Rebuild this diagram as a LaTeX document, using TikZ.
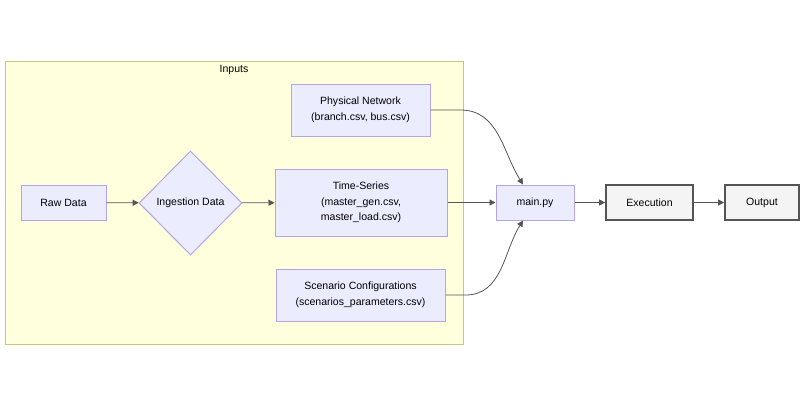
\documentclass[tikz,border=0pt]{standalone}
\usepackage{fontspec}
\setmainfont{Liberation Sans}
\usetikzlibrary{shapes.geometric,arrows.meta}

\definecolor{nodefill}{HTML}{ECECFF}
\definecolor{nodeline}{HTML}{B4A4E8}
\definecolor{clusterfill}{HTML}{FFFFDE}
\definecolor{clusterline}{HTML}{C8C87A}
\definecolor{runfill}{HTML}{F4F4F4}
\definecolor{runline}{HTML}{555555}
\definecolor{edgecol}{HTML}{555555}

\tikzset{
  box/.style={draw=nodeline, fill=nodefill, line width=0.75pt, inner sep=0pt,
    align=center, font=\fontsize{7.9}{11.6}\selectfont},
  decision/.style={box, diamond, aspect=1},
  runbox/.style={box, draw=runline, fill=runfill, line width=1.2pt},
  flow/.style={draw=edgecol, line width=0.6pt, -{Triangle[length=4.5pt,width=4.5pt]}}
}

\begin{document}
\begin{tikzpicture}[x=0.75pt,y=0.75pt]
\useasboundingbox (0,0) rectangle (804,-400);
% the inputs cluster
\draw [draw=clusterline, fill=clusterfill, line width=0.75pt] (5,-61) rectangle (463,-344);
\node (inputs) [font=\fontsize{7.9}{9}\selectfont] at (234,-70) {Inputs};
% nodes
\node (raw) [box, minimum width=63.75pt, minimum height=26.25pt] at (63.5,-202.5) {Raw Data};
\node (ingest) [decision, minimum width=77.25pt, minimum height=78pt] at (190.5,-203) {Ingestion Data};
\node (phys) [box, minimum width=104.25pt, minimum height=39pt] at (360.5,-110) {Physical Network\\(branch.csv, bus.csv)};
\node (series) [box, minimum width=129pt, minimum height=50.25pt] at (361,-202.5) {Time-Series\\(master\_gen.csv,\\master\_load.csv)};
\node (scen) [box, minimum width=126.75pt, minimum height=39pt] at (360.5,-295) {Scenario Configurations\\(scenarios\_parameters.csv)};
\node (mainpy) [box, minimum width=58.5pt, minimum height=26.25pt] at (535,-202.5) {main.py};
\node (exec) [runbox, minimum width=65.25pt, minimum height=26.25pt] at (649.5,-202.5) {Execution};
\node (out) [runbox, minimum width=55.5pt, minimum height=26.25pt] at (762,-202.5) {Output};
% connectors
\draw [flow] (raw) -- (ingest);
\draw [flow] (ingest) -- (series);
\draw [flow] (series) -- (mainpy);
\draw [flow] (phys.east) -- ++(30,0) to[out=0,in=122] ([xshift=-9pt]mainpy.north);
\draw [flow] (scen.east) -- ++(20,0) to[out=0,in=-122] ([xshift=-9pt]mainpy.south);
\draw [flow] (mainpy) -- (exec);
\draw [flow] (exec) -- (out);
\end{tikzpicture}
\end{document}
